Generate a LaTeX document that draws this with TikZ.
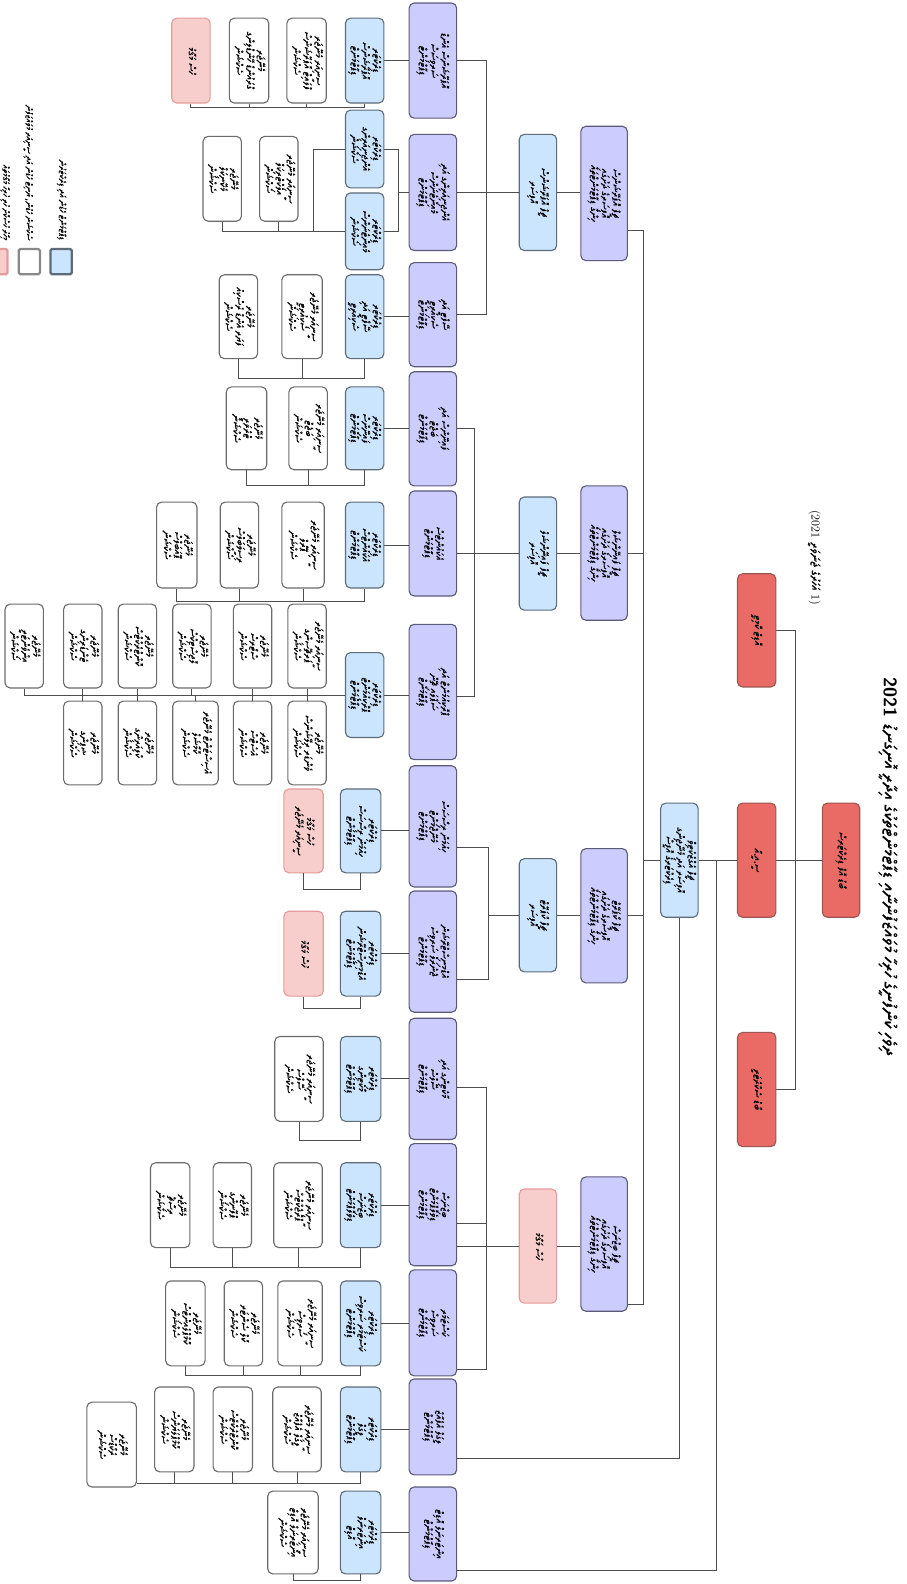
\documentclass[tikz,border=0pt]{standalone}
\usepackage{fontspec}
\usepackage{array}
\usepackage{tikz}
\newfontfamily\thaana[Script=Thaana, FakeBold=0.8]{Noto Sans Thaana}
\TeXXeTstate=1

\definecolor{redfill}{HTML}{EA6B66}
\definecolor{redline}{HTML}{9B5553}
\definecolor{purplefill}{HTML}{CCCCFF}
\definecolor{purpleline}{HTML}{5B5A78}
\definecolor{bluefill}{HTML}{CCE5FF}
\definecolor{blueline}{HTML}{5E6B78}
\definecolor{pinkfill}{HTML}{F8CECC}
\definecolor{pinkline}{HTML}{E39C99}
\definecolor{greyline}{HTML}{6B6B6B}
\definecolor{linkcol}{HTML}{4D4D4D}

% rotated box text, one RTL line per row
\newcommand{\tx}[1]{\rotatebox{-90}{\begin{tabular}{@{}>{\beginR}c<{\endR}@{}}#1\end{tabular}}}

\begin{document}
\begin{tikzpicture}[x=1pt,y=-1pt,
  orgbox/.style={draw, rounded corners=5pt, line width=1.1pt, inner sep=1.5pt,
    font=\thaana\fontsize{10.5}{9.5}\selectfont},
  sz/.style 2 args={minimum width=#1pt, minimum height=#2pt},
  redbox/.style={orgbox, fill=redfill, draw=redline},
  purplebox/.style={orgbox, fill=purplefill, draw=purpleline},
  bluebox/.style={orgbox, fill=bluefill, draw=blueline},
  pinkbox/.style={orgbox, fill=pinkfill, draw=pinkline},
  whitebox/.style={orgbox, fill=white, draw=greyline},
  legsq/.style={draw, rounded corners=1.5pt, line width=2.2pt, minimum width=21pt, minimum height=25pt},
  legtext/.style={rotate=-90, anchor=east, inner sep=0pt, font=\thaana\fontsize{9}{11}\selectfont},
  link/.style={draw=linkcol, line width=0.9pt}]
\useasboundingbox (0,0) rectangle (897,1568);

%title
\node[rotate=-90, font=\fontsize{18}{21}\selectfont] (ttl) at (879,858)
  {{\sffamily\bfseries 2021}\ {\thaana\beginR ދިވެހި ކުންފުނީގެ ހުރިހާ މުވައްޒަފުންނާއި ޑިޕާޓްމަންޓްތަކުގެ އިދާރީ އޮނިގަނޑު\endR}};
\node[rotate=-90, font=\fontsize{12}{14}\selectfont] (sub) at (806,552)
  {(2021 {\thaana\beginR އަހަރުގެ ޖަނަވަރީ\endR} 1)};

%legend
\node[legsq, fill=bluefill, draw=blueline] (lg1) at (60.5,259) {};
\node[legsq, fill=white, draw=greyline!80] (lg2) at (29,259) {};
\node[legsq, fill=pinkfill, draw=pinkline] (lg3) at (-3,259) {};
\node[legtext] (lt1) at (61,238) {\beginR ޑިޕާޓްމަންޓް ހެޑުން އަދި ޑިރެކްޓަރުން\endR};
\node[legtext] (lt2) at (28,238) {\beginR ސެކްޝަން ހެޑުން، ޔުނިޓް ހެޑުން އަދި ސީނިއަރ މުވައްޒަފުން\endR};
\node[legtext] (lt3) at (5,238) {\beginR މިހާރު ހުސްކޮށް ހުރި ހުރިހާ މަޤާމުތައް\endR};

%top
\node[redbox, sz={37}{113}] (hd) at (832.5,851.5) {\tx{ބޯޑު އޮފް ޑިރެކްޓަރސް}};
\node[redbox, sz={38}{112}] (r1) at (749,624) {\tx{އޮޑިޓް ކޮމިޓީ}};
\node[redbox, sz={38}{113}] (r2) at (749,851.5) {\tx{ސީ.އީ.އޯ}};
\node[redbox, sz={38}{113}] (r3) at (749,1078.5) {\tx{ބޯޑު ސެކްރެޓަރީ}};
\node[bluebox, sz={37}{113}] (dir) at (672.5,851.5) {\tx{ޗީފް އެގްޒެކެޓިވް\\އޮފިސަރ އަދި މެނޭޖިންގ\\ޑިރެކްޓަރގެ އޮފީސް}};

%chiefs
\node[purplebox, sz={46}{133}] (pa) at (598,191.5) {\tx{ޗީފް އޮޕަރޭޝަންސް\\އޮފިސަރގެ ދަށުގައި\\ހިންގާ ޑިޕާޓްމަންޓްތައް}};
\node[purplebox, sz={46}{133}] (pb) at (598,547.5) {\tx{ޗީފް ފައިނޭންޝަލް\\އޮފިސަރގެ ދަށުގައި\\ހިންގާ ޑިޕާޓްމަންޓްތައް}};
\node[purplebox, sz={46}{133}] (pc) at (598,906.5) {\tx{ޗީފް ކޯޕަރޭޓް\\އޮފިސަރގެ ދަށުގައި\\ހިންގާ ޑިޕާޓްމަންޓްތައް}};
\node[purplebox, sz={46}{133}] (pd) at (598,1231.5) {\tx{ޗީފް ބިޒްނަސް\\އޮފިސަރގެ ދަށުގައި\\ހިންގާ ޑިޕާޓްމަންޓްތައް}};
\node[bluebox, sz={37}{115}] (sa) at (532.5,190.5) {\tx{ޗީފް އޮޕަރޭޝަންސް\\އޮފިސަރ}};
\node[bluebox, sz={37}{112}] (sb) at (532.5,548) {\tx{ޗީފް ފައިނޭންޝަލް\\އޮފިސަރ}};
\node[bluebox, sz={37}{112}] (sc) at (532.5,906) {\tx{ޗީފް ކޯޕަރޭޓް\\އޮފިސަރ}};
\node[pinkbox, sz={37}{113}] (sd) at (532.5,1233.5) {\tx{ހުސް މަޤާމު}};

%departments
\node[purplebox, sz={47}{114}] (a1) at (428.5,60) {\tx{އޮޕަރޭޝަންސް އެންޑް\\ސަރވިސަސް\\ޑިޕާޓްމަންޓް}};
\node[purplebox, sz={47}{115}] (a2) at (428.5,190.5) {\tx{އެންޖިނިއަރިންގ އަދި\\މެއިންޓެނަންސް\\ޑިޕާޓްމަންޓް}};
\node[purplebox, sz={47}{103}] (a3) at (428.5,311.5) {\tx{ސޭފްޓީ އަދި\\ސެކިއުރިޓީ\\ޑިޕާޓްމަންޓް}};
\node[purplebox, sz={47}{113}] (b1) at (428.5,424.5) {\tx{ފައިނޭންސް އަދި\\ބަޖެޓް\\ޑިޕާޓްމަންޓް}};
\node[purplebox, sz={47}{104}] (b2) at (428.5,538) {\tx{އެކައުންޓްސް\\ޑިޕާޓްމަންޓް}};
\node[purplebox, sz={47}{134}] (b3) at (428.5,685) {\tx{ޕްރޮކިއުމަންޓް އަދި\\ސަޕްލައި ޗޭން\\ޑިޕާޓްމަންޓް}};
\node[purplebox, sz={47}{120}] (c1) at (428.5,818) {\tx{ހިއުމަން ރިސޯސަސް\\މެނޭޖްމަންޓް\\ޑިޕާޓްމަންޓް}};
\node[purplebox, sz={47}{120}] (c2) at (428.5,942) {\tx{އެޑްމިނިސްޓްރޭޝަން\\ޖެނެރަލް ސަރވިސް\\ޑިޕާޓްމަންޓް}};
\node[purplebox, sz={47}{120}] (d1) at (428.5,1068) {\tx{މާކެޓިންގ އަދި\\ސޭލްސް\\ޑިޕާޓްމަންޓް}};
\node[purplebox, sz={47}{121}] (d2) at (428.5,1192.5) {\tx{ބިޒްނަސް\\ޑިވެލޮޕްމަންޓް\\ޑިޕާޓްމަންޓް}};
\node[purplebox, sz={47}{105}] (d3) at (428.5,1309.5) {\tx{ކަސްޓަމަރ\\ސަރވިސް\\ޑިޕާޓްމަންޓް}};
\node[purplebox, sz={47}{95}] (e1) at (428.5,1412.5) {\tx{ލީގަލް އެފެއާޒް\\ޑިޕާޓްމަންޓް}};
\node[purplebox, sz={47}{93}] (e2) at (428.5,1518.5) {\tx{އިންޓަރނަލް އޮޑިޓް\\ޑިޕާޓްމަންޓް}};

%directors
\node[bluebox, sz={38}{84}] (a1b) at (361,60) {\tx{ޑިރެކްޓަރ\\އޮޕަރޭޝަންސް\\ޑިޕާޓްމަންޓް}};
\node[bluebox, sz={38}{77}] (a2b1) at (361,147.5) {\tx{ޑިރެކްޓަރ\\އެންޖިނިއަރިންގ\\ސެކްޝަން}};
\node[bluebox, sz={38}{76}] (a2b2) at (361,229) {\tx{ޑިރެކްޓަރ\\މެއިންޓެނަންސް\\ސެކްޝަން}};
\node[bluebox, sz={38}{83}] (a3b) at (361,313.5) {\tx{ޑިރެކްޓަރ\\ސޭފްޓީ އަދި\\ސެކިއުރިޓީ}};
\node[bluebox, sz={38}{82}] (b1b) at (361,424) {\tx{ޑިރެކްޓަރ\\ފައިނޭންސް\\ޑިޕާޓްމަންޓް}};
\node[bluebox, sz={38}{85}] (b2b) at (361,539.5) {\tx{ޑިރެކްޓަރ\\އެކައުންޓްސް\\ޑިޕާޓްމަންޓް}};
\node[bluebox, sz={38}{84}] (b3b) at (361,688) {\tx{ޑިރެކްޓަރ\\ޕްރޮކިއުމަންޓް\\ޑިޕާޓްމަންޓް}};
\node[bluebox, sz={40}{83}] (c1b) at (357,822.5) {\tx{ޑިރެކްޓަރ\\ހިއުމަން ރިސޯސަސް\\ޑިޕާޓްމަންޓް}};
\node[bluebox, sz={40}{84}] (c2b) at (357,944) {\tx{ޑިރެކްޓަރ\\އެޑްމިނިސްޓްރޭޝަން\\ޑިޕާޓްމަންޓް}};
\node[bluebox, sz={40}{84}] (d1b) at (357,1068) {\tx{ޑިރެކްޓަރ\\މާކެޓިންގ\\ޑިޕާޓްމަންޓް}};
\node[bluebox, sz={40}{84}] (d2b) at (357,1193) {\tx{ޑިރެކްޓަރ\\ބިޒްނަސް\\ޑިވެލޮޕްމަންޓް}};
\node[bluebox, sz={40}{84}] (d3b) at (357,1310) {\tx{ޑިރެކްޓަރ\\ކަސްޓަމަރ ސަރވިސް\\ޑިޕާޓްމަންޓް}};
\node[bluebox, sz={40}{84}] (e1b) at (357,1415) {\tx{ޑިރެކްޓަރ\\ލީގަލް\\ޑިޕާޓްމަންޓް}};
\node[bluebox, sz={40}{82}] (e2b) at (357,1517) {\tx{ޑިރެކްޓަރ\\އިންޓަރނަލް\\އޮޑިޓް}};

%managers
\node[whitebox, sz={39}{84}] (a1w1) at (303.5,60) {\tx{ސީނިއަރ މެނޭޖަރ\\ފްލައިޓް އޮޕަރޭޝަންސް\\ސެކްޝަން}};
\node[whitebox, sz={39}{84}] (a1w2) at (246.5,60) {\tx{މެނޭޖަރ\\ގްރައުންޑް ހޭންޑްލިންގ\\ސެކްޝަން}};
\node[pinkbox, sz={38}{84}] (a1p) at (189,60) {\tx{ހުސް މަޤާމު}};
\node[whitebox, sz={38}{84}] (a2w1) at (276,177) {\tx{ސީނިއަރ މެނޭޖަރ\\އިލެކްޓްރިކަލް\\ސެކްޝަން}};
\node[whitebox, sz={38}{84}] (a2w2) at (220,177) {\tx{މެނޭޖަރ\\މެކޭނިކަލް\\ސެކްޝަން}};
\node[whitebox, sz={40}{83}] (a3w1) at (299,313.5) {\tx{ސީނިއަރ މެނޭޖަރ\\ސެކިއުރިޓީ\\ސެކްޝަން}};
\node[whitebox, sz={38}{83}] (a3w2) at (236,313.5) {\tx{މެނޭޖަރ\\ފަޔަރ އެންޑް ރެސްކިއު\\ސެކްޝަން}};
\node[whitebox, sz={38}{82}] (b1w1) at (305,424) {\tx{ސީނިއަރ މެނޭޖަރ\\ބަޖެޓް\\ސެކްޝަން}};
\node[whitebox, sz={40}{82}] (b1w2) at (244,424) {\tx{މެނޭޖަރ\\ޓްރެޜަރީ\\ސެކްޝަން}};
\node[whitebox, sz={42}{85}] (b2w1) at (300,539.5) {\tx{ސީނިއަރ މެނޭޖަރ\\ޕޭރޯލް\\ސެކްޝަން}};
\node[whitebox, sz={38}{85}] (b2w2) at (237,539.5) {\tx{މެނޭޖަރ\\ރިސީވަބަލްސް\\ސެކްޝަން}};
\node[whitebox, sz={40}{85}] (b2w3) at (175,539.5) {\tx{މެނޭޖަރ\\ޕޭއަބަލްސް\\ސެކްޝަން}};
\node[whitebox, sz={38}{83}] (t1) at (304,639.5) {\tx{ސީނިއަރ މެނޭޖަރ\\ޕަރޗޭސިންގ\\ސެކްޝަން}};
\node[whitebox, sz={38}{83}] (t2) at (250,639.5) {\tx{މެނޭޖަރ\\ސްޓޯރސް\\ސެކްޝަން}};
\node[whitebox, sz={38}{83}] (t3) at (190,639.5) {\tx{މެނޭޖަރ\\ލޮޖިސްޓިކްސް\\ސެކްޝަން}};
\node[whitebox, sz={38}{83}] (t4) at (136,639.5) {\tx{މެނޭޖަރ\\ކޮންޓްރެކްޓްސް\\ސެކްޝަން}};
\node[whitebox, sz={38}{83}] (t5) at (82,639.5) {\tx{މެނޭޖަރ\\ޓެންޑަރިންގ\\ސެކްޝަން}};
\node[whitebox, sz={38}{83}] (t6) at (24,639.5) {\tx{މެނޭޖަރ\\އިންވެންޓަރީ\\ސެކްޝަން}};
\node[whitebox, sz={38}{83}] (u1) at (304,735.5) {\tx{މެނޭޖަރ\\ވެންޑަރ ރިލޭޝަންސް\\ސެކްޝަން}};
\node[whitebox, sz={38}{83}] (u2) at (250,735.5) {\tx{މެނޭޖަރ\\އެސެޓްސް\\ސެކްޝަން}};
\node[whitebox, sz={45}{83}] (u3) at (193.5,735.5) {\tx{އެސިސްޓަންޓް މެނޭޖަރ\\ކޮމާޝަލް\\ސެކްޝަން}};
\node[whitebox, sz={38}{83}] (u4) at (136,735.5) {\tx{މެނޭޖަރ\\ކްލިއަރިންގ\\ސެކްޝަން}};
\node[whitebox, sz={38}{83}] (u5) at (82,735.5) {\tx{މެނޭޖަރ\\ޝިޕިންގ\\ސެކްޝަން}};
\node[pinkbox, sz={39}{83}] (c1p) at (300.5,822.5) {\tx{ހުސް މަޤާމު\\ސީނިއަރ މެނޭޖަރ}};
\node[pinkbox, sz={39}{84}] (c2p) at (300.5,944) {\tx{ހުސް މަޤާމު}};
\node[whitebox, sz={48}{84}] (d1w) at (296,1068) {\tx{ސީނިއަރ މެނޭޖަރ\\ސޭލްސް\\ސެކްޝަން}};
\node[whitebox, sz={48}{84}] (d2w1) at (295,1193) {\tx{ސީނިއަރ މެނޭޖަރ\\ޕްރޮޖެކްޓްސް\\ސެކްޝަން}};
\node[whitebox, sz={38}{84}] (d2w2) at (230,1193) {\tx{މެނޭޖަރ\\ޕްލޭނިންގ\\ސެކްޝަން}};
\node[whitebox, sz={39}{84}] (d2w3) at (168.5,1193) {\tx{މެނޭޖަރ\\ރިސާޗް\\ސެކްޝަން}};
\node[whitebox, sz={44}{84}] (d3w1) at (297,1310) {\tx{ސީނިއަރ މެނޭޖަރ\\ސަރވިސް\\ސެކްޝަން}};
\node[whitebox, sz={38}{84}] (d3w2) at (241,1310) {\tx{މެނޭޖަރ\\ކޯލް ސެންޓަރ\\ސެކްޝަން}};
\node[whitebox, sz={39}{84}] (d3w3) at (183.5,1310) {\tx{މެނޭޖަރ\\ކޮމްޕްލެއިންޓްސް\\ސެކްޝަން}};
\node[whitebox, sz={48}{84}] (e1w1) at (294,1415) {\tx{ސީނިއަރ މެނޭޖަރ\\ލީގަލް އެފެއާޒް\\ސެކްޝަން}};
\node[whitebox, sz={39}{84}] (e1w2) at (230.5,1415) {\tx{މެނޭޖަރ\\ކޮންޓްރެކްޓްސް\\ސެކްޝަން}};
\node[whitebox, sz={39}{84}] (e1w3) at (172.5,1415) {\tx{މެނޭޖަރ\\ކޮމްޕްލަޔަންސް\\ސެކްޝަން}};
\node[whitebox, sz={49}{84}] (e1w4) at (110.5,1430) {\tx{މެނޭޖަރ\\ރެކޯޑްސް\\ސެކްޝަން}};
\node[whitebox, sz={50}{82}] (e2w) at (290,1517) {\tx{ސީނިއަރ މެނޭޖަރ\\އިންޓަރނަލް އޮޑިޓް\\ސެކްޝަން}};

%bus points
\coordinate (rb) at (787,0);
\coordinate (mbus) at (637,0);
\coordinate (je1) at (672.5,1444);
\coordinate (je2) at (709,1555);
\coordinate (busa) at (482,0);
\coordinate (ja2) at (394,0);
\coordinate (jw) at (310,0);
\coordinate (busb) at (470,0);
\coordinate (jc1) at (484,839);
\coordinate (jc2) at (484,970);
\coordinate (jd1) at (482,1076);
\coordinate (jd2) at (482,1211);
\coordinate (jd3) at (482,1356);

%lines top
\draw[link] (hd.west) -- (r2.east);
\draw[link] (r1.east) -| (rb |- r3.east) -- (r3.east);
\draw[link] (r2.west) -- (dir.east);
\draw[link] (dir.west) -- (dir.west -| mbus);
\draw[link] (dir.south) -- (je1) -- (je1 -| e1.east);
\draw[link] (je2 |- dir.east) -- (je2) -- (je2 -| e2.east);
\draw[link] (pa.east |- 0,228) -- (mbus |- 0,228) -- (mbus |- 0,1291) -- (pd.east |- 0,1291);
\draw[link] (pb.east) -- (pb.east -| mbus);
\draw[link] (pc.east) -- (pc.east -| mbus);
\draw[link] (sa.east) -- (pa.west |- sa.east);
\draw[link] (sb.east) -- (pb.west |- sb.east);
\draw[link] (sc.east) -- (pc.west |- sc.east);
\draw[link] (sd.east) -- (pd.west |- sd.east);

%lines departments
\draw[link] (a1.east) -| (busa |- a3.east) -- (a3.east);
\draw[link] (sa.west) -- (a2.east |- sa.west);
\draw[link] (b1.east) -| (busb |- sb.west) |- ([yshift=-4pt]b3.east);
\draw[link] (sb.west) -- (b2.east |- sb.west);
\draw[link] (jc1 -| c1.east) -- (jc1) -- (jc2) -- (jc2 -| c2.east);
\draw[link] (sc.west) -- (sc.west -| jc1);
\draw[link] (jd1 -| d1.east) -- (jd1) -- (jd3) -- (jd3 -| d3.east);
\draw[link] (jd2 -| d2.east) -- (jd2);
\draw[link] (sd.west) -- (sd.west -| d2.east);

%lines directors
\foreach \n in {a1,a3,b1,b2,b3,c1,c2,d1,d2,d3,e1,e2}
  \draw[link] (\n b.east) -- (\n b.east -| \n.west);
\draw[link] (a2.west) -- (a2.west -| ja2);
\draw[link] (a2b1.east) -| (ja2 |- a2b2.east) -- (a2b2.east);

%lines managers
\draw[link] (a1p.south) -- ++(0,4) -| (a1b.south);
\foreach \n in {a1w1,a1w2} \draw[link] (\n.south) -- ++(0,4);
\draw[link] (a2w2.south) |- (a2b2.west);
\draw[link] (a2w1.south) -- (a2w1.south |- a2b2.west);
\draw[link] (a2b1.west) -| (jw |- a2b2.west);
\draw[link] (a3w2.south) -- ++(0,19) -| (a3b.south);
\draw[link] (a3w1.south) -- ++(0,19);
\draw[link] (b1w2.south) -- ++(0,15) -| (b1b.south);
\draw[link] (b1w1.south) -- ++(0,15);
\draw[link] (b2w3.south) -- ++(0,13) -| (b2b.south);
\foreach \n in {b2w1,b2w2} \draw[link] (\n.south) -- ++(0,13);
\draw[link] (b3b.west) -- (b3b.west -| t6.south);
\foreach \n in {t1,t2,t3,t4,t5,t6} \draw[link] (\n.south) -- (\n.south |- b3b.west);
\foreach \n in {u1,u2,u3,u4,u5} \draw[link] (\n.north) -- (\n.north |- b3b.west);
\draw[link] (c1p.south) -- ++(0,16) -| (c1b.south);
\draw[link] (c2p.south) -- ++(0,12) -| (c2b.south);
\draw[link] (d1w.south) -- ++(0,18) -| (d1b.south);
\draw[link] (d2w3.south) -- ++(0,19) -| (d2b.south);
\foreach \n in {d2w1,d2w2} \draw[link] (\n.south) -- ++(0,19);
\draw[link] (d3w3.south) -- ++(0,9) -| (d3b.south);
\foreach \n in {d3w1,d3w2} \draw[link] (\n.south) -- ++(0,9);
\draw[link] (e1b.south) |- ([yshift=4pt]e1w4.south east);
\foreach \n in {e1w1,e1w2,e1w3} \draw[link] (\n.south) -- ++(0,11);
\draw[link] (e2w.south) -- ++(0,6) -| (e2b.south);
\end{tikzpicture}
\end{document}
